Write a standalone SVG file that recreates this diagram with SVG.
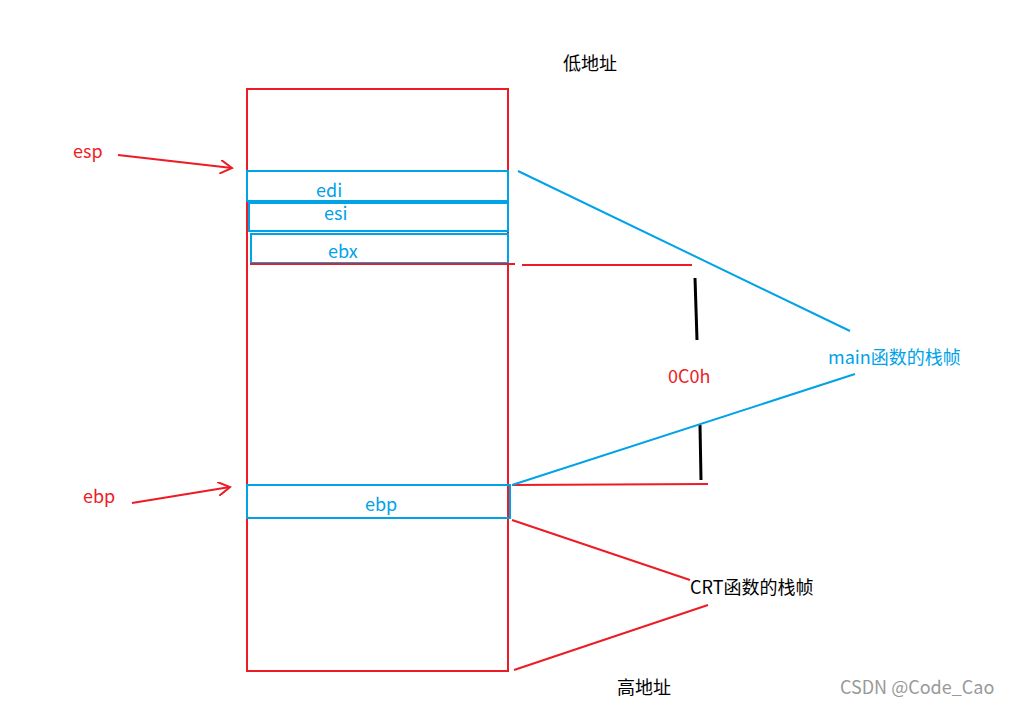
<svg xmlns="http://www.w3.org/2000/svg" width="1017" height="706" viewBox="0 0 1017 706">
<style>
text{font-family:"Noto Sans CJK SC","Noto Sans",sans-serif;font-size:18px}
.r{stroke:#ed1c24;stroke-width:2;fill:none}
.b{stroke:#00a2e8;stroke-width:2;fill:none}
.k{stroke:#000;stroke-width:3;fill:none}
.tr{fill:#ed1c24}.tb{fill:#00a2e8}
</style>
<defs><marker id="a" markerWidth="14" markerHeight="14" refX="12" refY="7" orient="auto" markerUnits="userSpaceOnUse"><path d="M0,0 L12,7 L0,14" fill="none" stroke="#ed1c24" stroke-width="2"/></marker></defs>
<rect width="1017" height="706" fill="#fff"/>
<g id="stack"><rect class="r" x="247" y="89" width="261" height="582"/></g>
<g id="edi"><rect class="b" x="247" y="171" width="261" height="30"/><text class="tb" x="316" y="197">edi</text></g>
<g id="esi"><rect class="b" x="249" y="203" width="259" height="28"/><text class="tb" x="324" y="220">esi</text></g>
<g id="ebx"><rect class="b" x="251" y="234" width="257" height="29"/><text class="tb" x="328" y="258">ebx</text></g>
<g id="ebpbox"><rect class="b" x="247" y="485" width="263" height="33"/><text class="tb" x="365" y="511">ebp</text></g>
<g id="labels">
<text x="563" y="70">低地址</text>
<text x="617" y="694">高地址</text>
<text class="tr" x="73" y="158">esp</text>
<text class="tr" x="83" y="503">ebp</text>
<text class="tr" x="668" y="383">0C0h</text>
<text class="tb" x="828" y="364">main函数的栈帧</text>
<text x="690" y="594">CRT函数的栈帧</text>
<text x="840" y="694" fill="#999" font-size="16">CSDN @Code_Cao</text>
</g>
<g id="connectors">
<line class="r" x1="118" y1="155" x2="232" y2="168" marker-end="url(#a)"/>
<line class="r" x1="132" y1="503" x2="230" y2="487" marker-end="url(#a)"/>
<line class="r" x1="250" y1="264" x2="515" y2="264"/>
<line class="r" x1="522" y1="265" x2="692" y2="265"/>
<line class="r" x1="512" y1="485" x2="708" y2="484"/>
<line class="k" x1="695" y1="278" x2="697" y2="340"/>
<line class="k" x1="700" y1="425" x2="701" y2="480"/>
<line class="b" x1="518" y1="171" x2="850" y2="331"/>
<line class="b" x1="512" y1="485" x2="855" y2="374"/>
<line class="r" x1="512" y1="520" x2="690" y2="580"/>
<line class="r" x1="514" y1="670" x2="708" y2="605"/>
</g>
</svg>
